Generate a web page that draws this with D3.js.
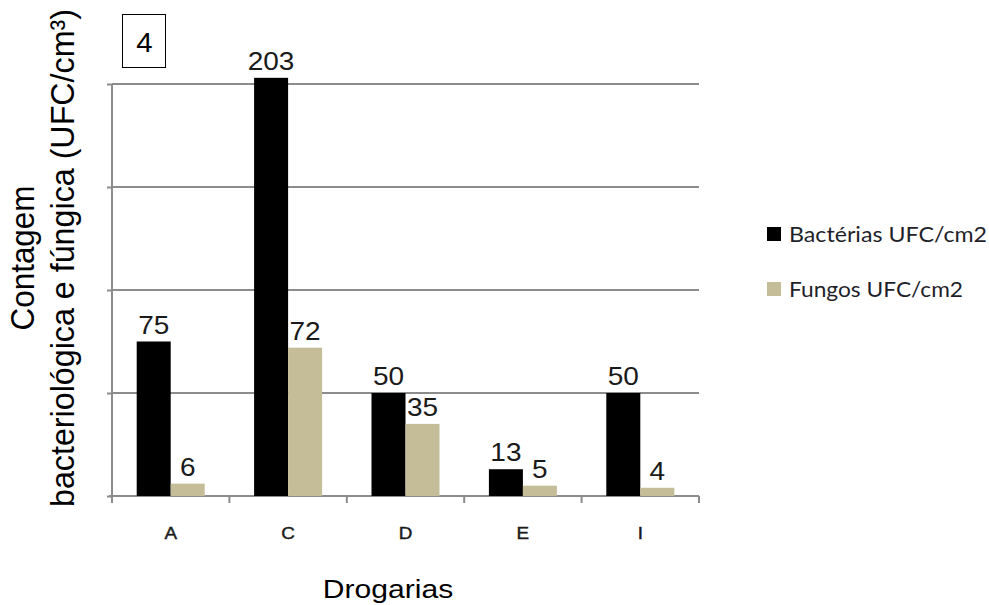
<!DOCTYPE html>
<html>
<head>
<meta charset="utf-8">
<script src="https://cdn.jsdelivr.net/npm/d3@7"></script>
<style>
  html, body { margin: 0; padding: 0; background: #fff; }
  svg { display: block; }
</style>
</head>
<body>
<svg id="chart" width="989" height="605"></svg>
<script>
// Drugstore samples and counts (UFC)
const categories = ["A", "C", "D", "E", "I"];
const seriesNames = ["Bactérias UFC/cm2", "Fungos UFC/cm2"];
const bacterias = [75, 203, 50, 13, 50];
const fungos = [6, 72, 35, 5, 4];
const yTicks = [0, 50, 100, 150, 200];
const colors = ["#000000", "#c4bd97"];

const svg = d3.select("#chart");
const plotLeft = 112, plotRight = 699, plotTop = 84, plotBottom = 496;
const arial = "Arial, 'Liberation Sans', sans-serif";
const sx = 1.18; // text is drawn slightly wide

const x = d3.scaleBand().domain(categories).range([plotLeft, plotRight]).paddingInner(0).paddingOuter(0);
const y = d3.scaleLinear().domain([0, 200]).range([plotBottom, plotTop]);
const barW = 34;

// Horizontal gridlines
svg.append("g").selectAll("line").data(yTicks).join("line")
  .attr("x1", plotLeft).attr("x2", plotRight)
  .attr("y1", d => y(d)).attr("y2", d => y(d))
  .attr("stroke", "#8c8c8c").attr("stroke-width", 2);

// Y axis line with small ticks to the left
const yAxis = d3.axisLeft(y).tickValues(yTicks).tickSize(5).tickFormat("");
const gy = svg.append("g").attr("transform", `translate(${plotLeft},0)`).call(yAxis);
gy.select(".domain").attr("stroke", "#8c8c8c").attr("stroke-width", 2)
  .attr("d", `M0,${plotTop}V${plotBottom}`);
gy.selectAll(".tick line").attr("stroke", "#8c8c8c").attr("stroke-width", 2);

// X axis with ticks at category boundaries
const gx = svg.append("g").attr("transform", `translate(0,${plotBottom})`);
gx.append("line").attr("x1", plotLeft - 3).attr("x2", plotRight)
  .attr("y1", 0).attr("y2", 0).attr("stroke", "#8c8c8c").attr("stroke-width", 2);
const bounds = categories.map(c => x(c)).concat([plotRight]);
gx.selectAll("line.tk").data(bounds).join("line").attr("class", "tk")
  .attr("x1", d => d).attr("x2", d => d).attr("y1", 0).attr("y2", 7)
  .attr("stroke", "#8c8c8c").attr("stroke-width", 2);
gx.selectAll("text").data(categories).join("text")
  .attr("transform", d => `translate(${x(d) + x.bandwidth() / 2},43) scale(${sx},1)`)
  .attr("text-anchor", "middle")
  .attr("font-family", arial)
  .attr("font-size", 16).attr("fill", "#1a1a1a")
  .attr("stroke", "#1a1a1a").attr("stroke-width", 0.4)
  .text(d => d);

// Bars with value labels
const series = [bacterias, fungos];
series.forEach((vals, si) => {
  const g = svg.append("g");
  const xpos = (c) => x(c) + x.bandwidth() / 2 - barW + si * barW;
  g.selectAll("rect").data(categories).join("rect")
    .attr("x", xpos)
    .attr("y", (c, i) => y(vals[i]))
    .attr("width", barW)
    .attr("height", (c, i) => plotBottom - y(vals[i]))
    .attr("fill", colors[si]);
  g.selectAll("text").data(categories).join("text")
    .attr("transform", (c, i) => `translate(${xpos(c) + barW / 2},${y(vals[i]) - 8}) scale(1.12,1)`)
    .attr("text-anchor", "middle")
    .attr("font-family", arial)
    .attr("font-size", 25).attr("fill", "#1a1a1a")
    .text((c, i) => vals[i]);
});

// Panel number box
svg.append("rect").attr("x", 122.5).attr("y", 14.5).attr("width", 43).attr("height", 53)
  .attr("fill", "none").attr("stroke", "#000").attr("stroke-width", 1);
svg.append("text").attr("transform", "translate(144.5,52) scale(1.05,1)").attr("text-anchor", "middle")
  .attr("font-family", arial).attr("font-size", 28)
  .text("4");

// Legend
const legendLengths = [198, 174];
const legend = svg.append("g");
seriesNames.forEach((name, i) => {
  const ly = 227 + i * 55;
  legend.append("rect").attr("x", 767).attr("y", ly).attr("width", 14).attr("height", 14)
    .attr("fill", colors[i]);
  legend.append("text").attr("x", 789).attr("y", ly + 15)
    .attr("font-family", "Lato, 'Open Sans', sans-serif")
    .attr("font-size", 21).attr("fill", "#1f1f2a")
    .attr("textLength", legendLengths[i]).attr("lengthAdjust", "spacingAndGlyphs")
    .text(name);
});

// Axis titles
const yt = svg.append("text")
  .attr("transform", "translate(0,258) scale(1.1,1) rotate(-90)")
  .attr("text-anchor", "middle")
  .attr("font-family", arial)
  .attr("font-size", 30).attr("fill", "#000");
yt.append("tspan").attr("x", 0).attr("y", 31)
  .attr("textLength", 145).attr("lengthAdjust", "spacingAndGlyphs").text("Contagem");
yt.append("tspan").attr("x", 0).attr("y", 67)
  .attr("textLength", 498).attr("lengthAdjust", "spacingAndGlyphs").text("bacteriológica e fúngica (UFC/cm³)");

svg.append("text").attr("transform", `translate(388,598) scale(${sx},1)`).attr("text-anchor", "middle")
  .attr("font-family", arial)
  .attr("font-size", 25.5).attr("fill", "#000")
  .text("Drogarias");
</script>
</body>
</html>
